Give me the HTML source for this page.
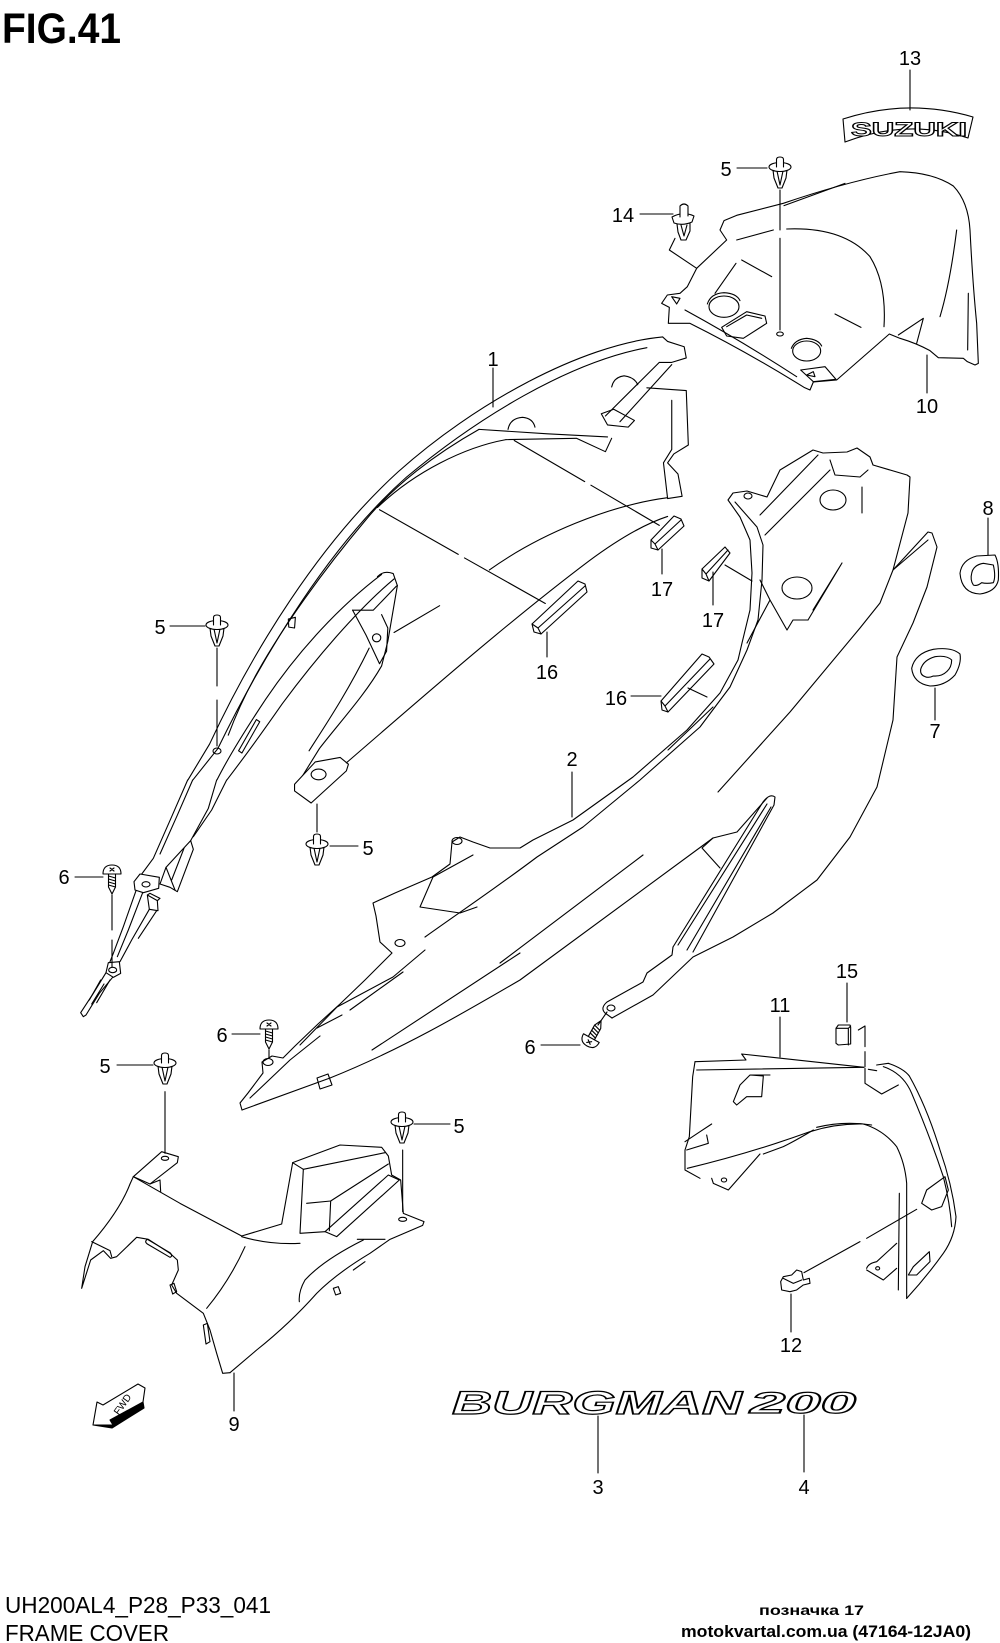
<!DOCTYPE html>
<html><head><meta charset="utf-8">
<style>
html,body{margin:0;padding:0;background:#fff;}
svg{display:block;}
svg *{vector-effect:non-scaling-stroke;}
.s,.s *{fill:none;stroke:#000;stroke-width:1.1;stroke-linejoin:round;stroke-linecap:round;}
.s .w,.w{fill:#fff;stroke:#000;stroke-width:1.1;}
text{font-family:"Liberation Sans",sans-serif;fill:#000;stroke:none;}
.n{font-size:20px;text-anchor:middle;}
</style></head><body>
<svg width="1000" height="1643" viewBox="0 0 1000 1643" xmlns="http://www.w3.org/2000/svg">
<defs>
<g id="c5" class="s">
 <path class="w" d="M-7,13 L-6,21 L-2,31 L2,31 L6,21 L7,13 Z"/>
 <path d="M-3,14 L0,28 L3,14"/>
 <ellipse class="w" cx="0" cy="10" rx="11" ry="4.5"/>
 <path class="w" d="M-3.5,10 V2.5 Q-3.5,0 0,0 Q3.5,0 3.5,2.5 V10"/>
</g>
<g id="sc" class="s">
 <path class="w" d="M-3.5,8 L-3.5,22 L0,29 L3.5,22 L3.5,8"/>
 <path d="M-3.5,11 L3.5,13 M-3.5,14 L3.5,16 M-3.5,17 L3.5,19 M-3.5,20 L3.5,22"/>
 <path class="w" d="M-9,9 Q-9,0 0,0 Q9,0 9,9 Z"/>
 <path d="M-2,3 L2,6 M2,3 L-2,6"/>
</g>
</defs>

<!-- title -->
<text x="2" y="43" font-size="43" font-weight="bold" textLength="119" lengthAdjust="spacingAndGlyphs">FIG.41</text>

<!-- Part 13 SUZUKI badge -->
<g class="s">
 <path d="M843,119 Q908,98 973,117 L968,138 Q908,118 845,142 Z"/>
</g>
<text x="909" y="136" font-size="19" font-weight="bold" textLength="116" lengthAdjust="spacingAndGlyphs" text-anchor="middle" style="fill:#fff;stroke:#000;stroke-width:1">SUZUKI</text>

<!-- Part 10 (zoom7 coords) -->
<g class="s" transform="translate(580,30) scale(0.33333)">
 <path d="M420,600 L432,572 L470,556 L610,520 Q800,455 960,425 Q1060,428 1120,468 Q1165,515 1170,600 Q1178,760 1190,880 L1195,1000 L1185,1005 L1162,995 L1150,985 L1075,983 L1050,962 Q1010,940 960,925 L928,912 L770,1050 L700,1056 L690,1080 L672,1072 Q500,965 330,880 L265,880 L268,832 L245,820 L262,795 L300,790 L322,770 L350,715 L440,630 Z"/>
 <path d="M612,527 L795,460"/>
 <path d="M620,597 Q790,590 870,680 Q920,760 912,890"/>
 <path d="M470,630 L580,600"/>
 <path d="M485,690 L575,740"/>
 <path d="M765,852 L843,892"/>
 <path d="M468,700 L405,790"/>
 <ellipse cx="432" cy="830" rx="45" ry="32"/>
 <path d="M382,822 Q392,790 432,788 Q470,790 480,812"/>
 <ellipse cx="680" cy="963" rx="42" ry="30"/>
 <path d="M634,955 Q645,928 680,925 Q715,928 725,948"/>
 <path d="M425,892 L500,845 L555,858 L560,880 L490,925 L440,918 Z"/>
 <path d="M440,890 L500,855 L545,865"/>
 <path d="M315,840 Q480,930 650,1040"/>
 <path d="M1130,600 Q1110,760 1080,860"/>
 <path d="M1165,790 L1163,960"/>
 <path d="M955,915 L1030,865 L1010,940"/>
 <path d="M662,1020 L735,1010 L768,1048 L700,1055 Z"/>
 <path d="M680,1035 L700,1025 L705,1040 Z"/>
 <path d="M275,800 L300,805 L290,822 Z"/>
 <path d="M600,480 L600,600 M600,625 L600,900"/>
 <ellipse cx="600" cy="912" rx="10" ry="6"/>
 <path d="M285,625 L268,660 L350,715"/>
</g>

<!-- clip 5 top & 14 -->
<use href="#c5" transform="translate(780,157)"/>
<g class="s">
 <path class="w" d="M677,224 L678,232 L681,240 L686,240 L690,231 L690,223 Z"/>
 <path d="M681,225 L684,236 L687,225"/>
 <path class="w" d="M672,217 Q683,211 694,216 L692,222 Q683,226 674,223 Z"/>
 <path class="w" d="M680,217 V206 Q684,202 688,206 V216"/>
</g>

<!-- Part 1 (zoom5 coords) -->
<g class="s" transform="translate(50,320) scale(0.4145,0.4464)">
 <path d="M1478,38 C1280,55 1020,190 840,340 C650,500 490,740 385,950 L333,1030"/>
 <path d="M1440,62 C1250,95 1030,220 860,352 C680,500 520,740 405,960 L345,1030"/>
 <path d="M1035,245 C930,300 830,370 760,450 C660,560 560,690 500,790 C470,840 450,880 430,930"/>
 <path d="M800,570 C700,640 600,740 520,850 C470,920 430,980 403,1030"/>
 <path d="M830,580 C740,650 640,760 560,860 C500,940 460,990 427,1030"/>
 <path d="M790,575 Q805,560 828,568 L838,595"/>
 <path d="M838,595 L815,720 L800,775 C760,840 700,900 650,960 L600,1035"/>
 <path d="M770,735 C720,830 670,900 625,965"/>
 <path d="M730,650 L780,650 L836,596"/>
 <path d="M730,650 L762,705 L795,770 L812,742 L815,690 L800,660"/>
 <ellipse cx="788" cy="712" rx="10" ry="9"/>
 <path class="w" d="M590,1040 L640,990 L700,980 L720,995 L715,1010 L630,1082 L590,1055 Z"/>
 <ellipse cx="648" cy="1018" rx="18" ry="12"/>
 <path d="M715,992 C880,860 1100,680 1300,540 C1380,485 1440,455 1490,440"/>
 <path d="M1060,560 C1180,480 1350,415 1490,398"/>
 <path d="M830,700 L940,640"/>
 <path d="M1478,38 L1490,48 L1530,60 L1535,85 L1500,95 L1470,95"/>
 <path d="M1470,95 L1340,215 M1500,100 L1375,228"/>
 <path d="M1330,210 L1360,200 L1410,225 L1395,240 L1345,235 Z"/>
 <path d="M1440,152 L1535,158 L1540,280 L1505,300 L1490,320 L1515,345 L1525,395 L1490,400 L1480,320 L1500,290 L1500,180"/>
 <path d="M1105,245 Q1110,220 1140,218 Q1165,220 1170,240"/>
 <path d="M1355,150 Q1360,128 1385,125 Q1410,128 1418,145"/>
 <path d="M1035,245 L1200,255 L1345,262"/>
 <path d="M1100,268 L1270,265 L1340,295 L1355,265"/>
 <path d="M790,420 C880,340 1000,285 1100,268"/>
 <path d="M575,670 L592,666 L590,690 L576,688 Z"/>
 <path d="M455,965 L498,895 L506,900 L463,970 Z"/>
 <path d="M795,425 L985,525 M1000,533 L1195,635"/>
 <path d="M1120,270 L1290,362 M1305,370 L1470,460"/>
</g>

<!-- Part 1 lower (zoom12 coords) -->
<g class="s" transform="translate(60,780) scale(0.33333)">
 <path d="M383,0 L335,110 L280,235 L232,300"/>
 <path d="M398,0 L350,110 L300,222"/>
 <path d="M470,0 L445,85 L392,182"/>
 <path d="M500,0 L455,90 L400,170"/>
 <path d="M392,182 L400,208 L352,335 L330,322 L300,312 L318,262 Z"/>
 <path d="M318,262 L345,330 M372,205 L335,300"/>
 <path class="w" d="M222,305 L240,282 L298,292 L296,325 L250,338 L225,330 Z"/>
 <ellipse cx="258" cy="313" rx="12" ry="8"/>
 <path d="M262,345 L292,362 L294,392 L268,388 Z M262,345 L270,340 L300,355 L292,362"/>
 <path d="M228,332 L190,440 L160,520 L150,545"/>
 <path d="M248,338 L205,450 L172,530"/>
 <path d="M268,388 L215,480 L180,545"/>
 <path d="M290,392 L235,475"/>
 <path class="w" d="M145,548 L178,545 L182,580 L160,592 L138,578 Z"/>
 <ellipse cx="158" cy="570" rx="12" ry="8"/>
 <path d="M138,578 L100,640 L62,698 L70,710 L78,705 L118,640 L158,592"/>
 <path d="M122,600 L88,660 M132,612 L95,672 M150,600 L110,668"/>
</g>

<!-- Part 2 (orig coords) -->
<g class="s">
 <path d="M242,1110 L240,1103 L248,1093 L263,1073 L262,1062 L272,1056 L283,1058 L295,1046 L318,1024 L340,1004 L365,980 L392,953 L380,942 L376,916 L373,903 L395,893 L432,877 L450,864 L452,842 L460,837 L473,842 L490,848 L520,848 L533,840 L573,820 L633,777 L687,730 L720,693 L738,660 L742,643 L750,610 L752,573 L750,540 L740,517 L728,500 L733,493 L747,491 L767,497 L780,470 L813,450 L823,453 L847,452 L857,448 L870,457 L873,465 L907,475 L910,477 L908,513 L893,570 L928,532 L932,533 L937,547 L927,587 L913,623 L897,657 L893,720 L877,787 L850,837 L817,880 L773,913 L733,937 L693,957 L653,995 L612,1018"/>
 <path d="M242,1110 L330,1078 C400,1050 460,1015 520,980 L713,838"/>
 <path d="M250,1098 L290,1060 L320,1036"/>
 <path d="M300,1045 L337,1007 L393,977 L425,950"/>
 <path d="M425,937 C460,912 500,885 537,857 L583,827 L640,780 L700,727 L730,687 L747,650 L758,620 L762,580 L763,545 L757,527 L735,502"/>
 <path d="M433,877 L420,907 L460,913 L477,907 M433,877 L473,855"/>
 <ellipse cx="400" cy="943" rx="5" ry="3.5"/>
 <ellipse cx="457" cy="841" rx="5" ry="3.5"/>
 <ellipse cx="268" cy="1062" rx="5" ry="3.5"/>
 <ellipse cx="748" cy="496" rx="4" ry="3"/>
 <path d="M317,1028 L342,1015" stroke-width="2.5"/>
 <path d="M317,1078 L328,1074 L332,1085 L320,1089 Z"/>
 <path d="M350,1010 L403,972 M372,1050 L520,953 M500,963 L643,855 M668,750 L713,707"/>
 <path d="M893,570 L880,603 L860,628 L790,712 L718,792"/>
 <path d="M760,515 L818,455 M765,535 L830,470"/>
 <ellipse cx="833" cy="500" rx="13" ry="10"/>
 <ellipse cx="797" cy="588" rx="15" ry="11"/>
 <path d="M862,487 L862,513 M842,563 L813,610 M808,620 L842,563"/>
 <path d="M747,643 L770,600 L787,630 L793,620 L808,620 M760,580 L770,600"/>
 <path d="M830,460 L835,475 L860,477 L868,470"/>
 <path d="M893,570 L928,540"/>
 <path d="M713,838 L702,848 L720,868 M767,798 L737,832 L713,838"/>
 <path d="M673,947 L763,802 Q770,793 775,797 L774,805 L693,952 M678,945 L767,804 M687,950 L771,807"/>
 <path d="M673,947 L672,955 L647,973 L643,982 L607,1002 Q600,1008 605,1013 L612,1018"/>
 <ellipse cx="611" cy="1008" rx="4" ry="3"/>
 <!-- decals 16/17 -->
 <path class="w" d="M534,632 L532,624 L578,581 L585,584 L587,592 L541,634 Z"/>
 <path d="M532,624 L538,628 L541,634 M538,628 L585,586"/>
 <path class="w" d="M651,548 L651,540 L674,516 L681,519 L684,526 L658,550 Z"/>
 <path d="M651,540 L655,544 L658,550 M655,544 L681,520"/>
 <path class="w" d="M702,578 L702,569 L725,547 L730,553 L709,581 Z"/>
 <path d="M702,569 L706,574 L709,581 M706,574 L728,550 M725,565 L752,581"/>
 <path class="w" d="M662,710 L661,701 L702,654 L709,657 L714,664 L668,712 Z"/>
 <path d="M661,701 L665,706 L668,712 M665,706 L710,659 M688,688 L707,697"/>
</g>

<!-- Parts 7 & 8 (zoom10 coords) -->
<g class="s" transform="translate(680,430) scale(0.33333)">
 <path d="M840,430 Q845,390 890,378 L945,375 Q958,400 955,450 Q948,485 900,492 Q845,490 840,430 Z"/>
 <path d="M875,430 Q880,405 910,400 L940,405 Q948,440 940,458 Q920,462 905,458 Q890,470 880,465 Q870,450 875,430 Z"/>
 <path d="M695,715 Q705,670 760,658 Q815,650 840,672 Q845,700 825,735 Q795,768 750,768 Q700,760 695,715 Z"/>
 <path d="M722,718 Q730,690 765,680 Q800,675 815,690 Q815,712 800,725 Q785,740 760,738 Q745,745 735,740 Q720,735 722,718 Z"/>
</g>

<!-- Part 11, 12, 15 (zoom8 coords) -->
<g class="s" transform="translate(650,950) scale(0.33333)">
 <path d="M135,335 L288,330 L275,312 L642,352"/>
 <path d="M140,360 L640,352"/>
 <path d="M680,345 L715,340 Q760,355 778,378 Q830,470 870,600 Q905,700 918,800 Q915,860 880,910 Q830,980 770,1045"/>
 <path d="M700,350 Q760,370 785,430 Q840,560 880,680 Q900,760 905,830"/>
 <path d="M135,335 L128,380 L118,560 L105,600 L105,660 L150,685"/>
 <path d="M112,655 Q300,610 480,545 Q560,520 640,522 Q700,540 740,590 Q765,640 770,700 L770,1045"/>
 <path d="M500,532 Q580,512 665,525"/>
 <path d="M748,730 L745,1020"/>
 <path d="M185,685 L190,700 L235,720 L330,612"/>
 <ellipse cx="222" cy="690" rx="8" ry="6"/>
 <path d="M650,955 Q655,940 680,935 L740,880 M650,960 L700,990 L740,955"/>
 <ellipse cx="683" cy="955" rx="6" ry="5"/>
 <path d="M250,455 L270,405 L300,375 L340,378 L335,440 L290,440 L260,465 Z M300,375 L360,375"/>
 <path d="M105,575 L150,545 L185,522 M110,600 L175,580 L170,555"/>
 <path d="M815,760 L830,720 L885,680 L895,720 L875,770 L845,780 Z"/>
 <path d="M775,975 L790,950 L838,905 L840,935 L800,975 Z"/>
 <path d="M490,540 Q440,570 400,590 L340,612" stroke-width="2.5"/>
 <path d="M655,358 L680,362" stroke-width="3"/>
 <path d="M645,355 L645,400 L695,432 L745,405"/>
 <!-- 15 -->
 <path class="w" d="M558,235 L565,225 L600,225 L602,232 L602,282 L565,285 L558,280 Z"/>
 <path d="M558,235 L595,235 L602,228 M595,235 L595,285"/>
 <path d="M625,240 L645,228 L645,290 M645,305 L645,350"/>
 <!-- 12 -->
 <path class="w" d="M392,995 L400,980 L425,975 L440,960 L455,965 L460,990 L478,985 L480,1000 L460,1005 L440,1020 L420,1025 L395,1020 Z"/>
 <path d="M400,985 L430,1000 L455,990"/>
 <path d="M462,968 L630,875 M650,865 L800,778"/>
</g>

<!-- Part 9 (zoom9 coords) -->
<g class="s" transform="translate(70,1040) scale(0.33333)">
 <path d="M190,410 L275,335 L325,350 L322,368 L240,432 Z"/>
 <ellipse cx="285" cy="355" rx="11" ry="6"/>
 <path d="M190,410 L330,490 L515,588 L635,552 L668,368 L810,315 L935,322 L955,348 L965,405 L992,420 L1000,520 L1062,545 L1058,556 L960,598 L900,640 Q800,700 740,760 Q660,850 560,930 L480,998"/>
 <path d="M190,410 L180,432 Q150,510 68,605 L45,680 L35,745 L62,660 L100,632 L122,655 L140,650 L200,592 L235,598 L300,640 L322,660 L325,690 L305,735 L320,760 L400,820 L420,870 L440,940 L458,1000 L480,998"/>
 <path d="M668,368 L700,388 L945,338"/>
 <path d="M700,388 L690,580 L765,575"/>
 <path d="M710,490 L782,483 L955,372"/>
 <path d="M782,483 L778,572"/>
 <path d="M765,575 L955,405 L988,420 L800,590 L765,575"/>
 <ellipse cx="998" cy="538" rx="12" ry="6"/>
 <path d="M880,600 Q760,660 705,720 Q685,755 688,785"/>
 <path d="M862,598 L945,598"/>
 <path d="M515,590 Q600,615 690,610"/>
 <path d="M525,620 Q480,720 410,805"/>
 <path d="M232,598 L300,638 Q310,648 300,652 L232,612 Q222,605 232,598 Z"/>
 <path d="M300,735 L312,730 L320,755 L308,762 Z"/>
 <path d="M400,855 L412,850 L420,905 L408,912 Z"/>
 <path d="M790,745 L805,740 L812,760 L797,765 Z"/>
 <path d="M65,605 L120,632 L125,650"/>
 <path d="M240,432 L270,420 L272,455"/>
 <path d="M850,690 L885,665" stroke-width="2.5"/>
 <path d="M285,155 L285,340 M998,330 L998,515"/>
</g>

<!-- clips & screws -->
<use href="#c5" transform="translate(217,615)"/>
<use href="#c5" transform="translate(317,834)"/>
<use href="#c5" transform="translate(165,1053)"/>
<use href="#c5" transform="translate(402,1112)"/>
<use href="#sc" transform="translate(112,865)"/>
<use href="#sc" transform="translate(269,1020)"/>
<use href="#sc" transform="translate(587,1046) rotate(209)"/>

<!-- leaders & clip lines -->
<g class="s">
 <path d="M910,70 V110"/>
 <path d="M737,168 H767"/>
 <path d="M640,214 H673"/>
 <path d="M927,355 V393"/>
 <path d="M493,368 V407"/>
 <path d="M988,518 V555"/>
 <path d="M170,626 H205"/>
 <path d="M662,549 V574"/>
 <path d="M713,572 V605"/>
 <path d="M547,632 V657"/>
 <path d="M631,696 H661"/>
 <path d="M935,688 V720"/>
 <path d="M572,772 V817"/>
 <path d="M330,846 H358"/>
 <path d="M75,877 H103"/>
 <path d="M847,983 V1022"/>
 <path d="M780,1017 V1057"/>
 <path d="M232,1034 H260"/>
 <path d="M541,1045 H580"/>
 <path d="M117,1065 H153"/>
 <path d="M414,1124 H450"/>
 <path d="M791,1294 V1332"/>
 <path d="M234,1373 V1411"/>
 <path d="M598,1416 V1473"/>
 <path d="M804,1415 V1472"/>
 <path d="M217,648 V686 M217,700 V746"/>
 <ellipse cx="217" cy="751" rx="4" ry="3"/>
 <path d="M317,804 V832"/>
 <path d="M112,895 V930 M112,940 V967"/>
 <path d="M269,1050 V1058"/>
 <path d="M598,1025 L607,1012"/>
</g>

<!-- labels -->
<text class="n" x="910" y="65">13</text>
<text class="n" x="726" y="176">5</text>
<text class="n" x="623" y="222">14</text>
<text class="n" x="927" y="413">10</text>
<text class="n" x="493" y="366">1</text>
<text class="n" x="988" y="515">8</text>
<text class="n" x="160" y="634">5</text>
<text class="n" x="662" y="596">17</text>
<text class="n" x="713" y="627">17</text>
<text class="n" x="547" y="679">16</text>
<text class="n" x="616" y="705">16</text>
<text class="n" x="935" y="738">7</text>
<text class="n" x="572" y="766">2</text>
<text class="n" x="368" y="855">5</text>
<text class="n" x="64" y="884">6</text>
<text class="n" x="847" y="978">15</text>
<text class="n" x="780" y="1012">11</text>
<text class="n" x="222" y="1042">6</text>
<text class="n" x="530" y="1054">6</text>
<text class="n" x="105" y="1073">5</text>
<text class="n" x="459" y="1133">5</text>
<text class="n" x="791" y="1352">12</text>
<text class="n" x="234" y="1431">9</text>
<text class="n" x="598" y="1494">3</text>
<text class="n" x="804" y="1494">4</text>

<!-- BURGMAN 200 decal -->
<text x="452" y="1414" font-size="32" font-weight="bold" font-style="italic" textLength="290" lengthAdjust="spacingAndGlyphs" style="fill:#fff;stroke:#000;stroke-width:1.2">BURGMAN</text>
<text x="750" y="1413" font-size="30" font-weight="bold" font-style="italic" textLength="106" lengthAdjust="spacingAndGlyphs" style="fill:#fff;stroke:#000;stroke-width:1.2">200</text>

<!-- FWD arrow -->
<g class="s">
 <path style="fill:#000" d="M93,1425 L113,1425 L110,1420 L143,1402 L144,1408 L112,1428 Z"/>
 <path class="w" d="M93,1425 L97,1402 L103,1405 L138,1384 L145,1388 L143,1402 L110,1420 L113,1425 Z"/>
</g>
<text x="122" y="1408" font-size="10" text-anchor="middle" transform="rotate(-55 122 1404)">FWD</text>

<!-- footer -->
<text x="5" y="1613" font-size="23" textLength="266" lengthAdjust="spacingAndGlyphs">UH200AL4_P28_P33_041</text>
<text x="5" y="1641" font-size="23" textLength="164" lengthAdjust="spacingAndGlyphs">FRAME COVER</text>
<text x="759" y="1615" font-size="14" font-weight="bold" textLength="105" lengthAdjust="spacingAndGlyphs">позначка 17</text>
<text x="681" y="1637" font-size="17" font-weight="bold" textLength="290" lengthAdjust="spacingAndGlyphs">motokvartal.com.ua (47164-12JA0)</text>
</svg>
</body></html>
